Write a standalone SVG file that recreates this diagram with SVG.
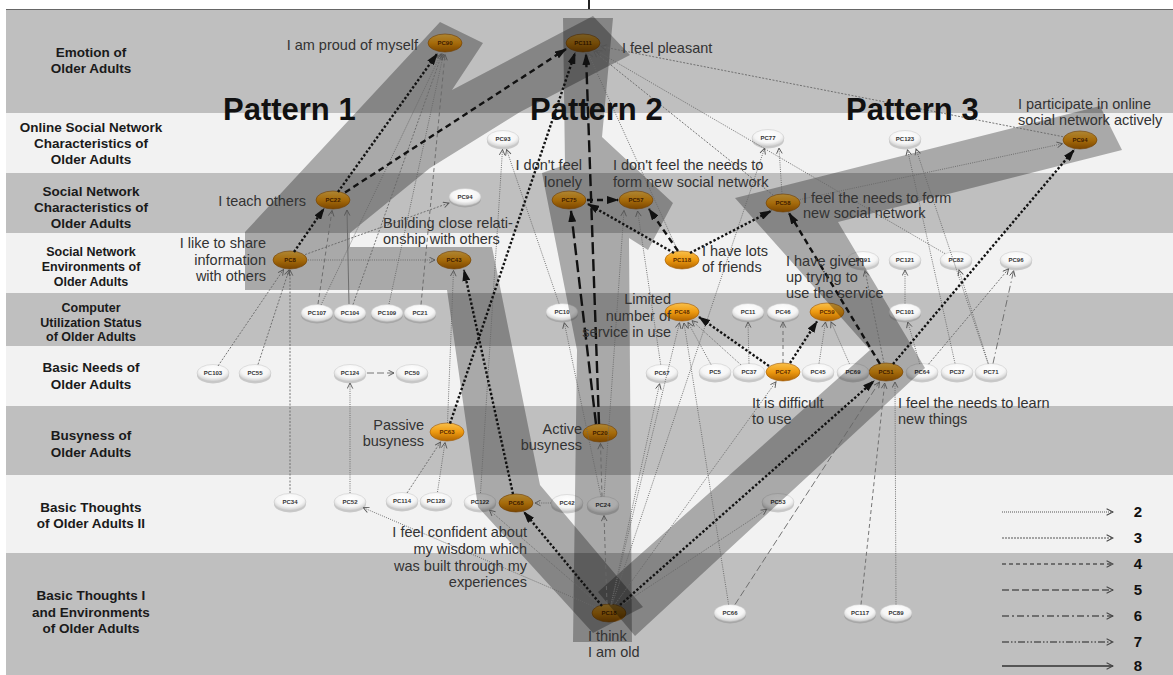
<svg xmlns="http://www.w3.org/2000/svg" width="1173" height="675" viewBox="0 0 1173 675">
<style>
.bd{fill:#bfbfbf}.bl{fill:#f2f2f2}
.rl{font:bold 13.5px "Liberation Sans",Arial,sans-serif;fill:#1a1a1a;text-anchor:middle}
.rs{font-size:12.5px}
.pt{font:bold 31px "Liberation Sans",Arial,sans-serif;fill:#111}
.an{font:14.5px "Liberation Sans",Arial,sans-serif;fill:#333}
.e{text-anchor:end}
.on ellipse{fill:url(#og);stroke:#a05800;stroke-width:.6}
.on text{font:bold 6px "Liberation Sans",Arial,sans-serif;fill:#5a2a00;text-anchor:middle}
.wn ellipse{fill:url(#wg);stroke:#c4c4c4;stroke-width:.5}
.wn ellipse.sh{fill:#7a7a7a;stroke:none;opacity:.35}
.wn text{font:bold 6px "Liberation Sans",Arial,sans-serif;fill:#333;text-anchor:middle}
.pat{fill:#000;opacity:.3}
.t line{stroke:#666;stroke-width:.9;fill:none;marker-end:url(#ah)}
.s2{stroke-dasharray:1 1.2}
.s3{stroke-dasharray:2 1.5}
.s4{stroke-dasharray:4 3}
.s5{stroke-dasharray:7 3}
.s6{stroke-dasharray:7 3 1.5 3}
.s7{stroke-dasharray:7 2 1.5 2 1.5 2}
.k line{stroke:#111;stroke-width:2.4;fill:none;marker-end:url(#ahb)}
.dt{stroke-dasharray:2.4 2}
.ds{stroke-dasharray:6 4}
.ld{stroke-dasharray:12 5}
.lg line{stroke:#555;fill:none;marker-end:url(#ahl)}
.ln{font:bold 15px "Liberation Sans",Arial,sans-serif;fill:#111;text-anchor:middle}
</style>
<defs>
<linearGradient id="og" x1="0" y1="0" x2="0" y2="1"><stop offset="0" stop-color="#f9c04a"/><stop offset="0.5" stop-color="#ee9a10"/><stop offset="1" stop-color="#b06400"/></linearGradient>
<radialGradient id="wg" cx="0.5" cy="0.35" r="0.7"><stop offset="0" stop-color="#ffffff"/><stop offset="0.6" stop-color="#f5f5f5"/><stop offset="1" stop-color="#c2c2c2"/></radialGradient>
<marker id="ah" viewBox="0 0 10 10" refX="9" refY="5" markerWidth="7" markerHeight="7" orient="auto" markerUnits="userSpaceOnUse"><path d="M1,1 L9,5 L1,9" fill="none" stroke="#555" stroke-width="1.3"/></marker>
<marker id="ahl" viewBox="0 0 10 10" refX="9" refY="5" markerWidth="8" markerHeight="8" orient="auto" markerUnits="userSpaceOnUse"><path d="M1,1 L9,5 L1,9" fill="none" stroke="#444" stroke-width="1.3"/></marker>
<marker id="ahb" viewBox="0 0 12 8" refX="11" refY="4" markerWidth="12" markerHeight="8" orient="auto" markerUnits="userSpaceOnUse"><path d="M0,0 L12,4 L0,8 z" fill="#111"/></marker>
</defs>
<rect width="1173" height="675" fill="#fff"/>
<g id="bands">
<rect class="bd" x="6" y="10" width="1167" height="103"/>
<rect class="bl" x="6" y="113" width="1167" height="60"/>
<rect class="bd" x="6" y="173" width="1167" height="60"/>
<rect class="bl" x="6" y="233" width="1167" height="60"/>
<rect class="bd" x="6" y="293" width="1167" height="53"/>
<rect class="bl" x="6" y="346" width="1167" height="60"/>
<rect class="bd" x="6" y="406" width="1167" height="69"/>
<rect class="bl" x="6" y="475" width="1167" height="78"/>
<rect class="bd" x="6" y="553" width="1167" height="122"/>
<line x1="6" y1="9.5" x2="1173" y2="9.5" stroke="#666" stroke-width="1"/>
<line x1="589" y1="0" x2="589" y2="9" stroke="#222" stroke-width="2"/>
</g>
<g id="row-labels">
<text class="rl" x="91" y="57">Emotion of</text><text class="rl" x="91" y="73">Older Adults</text>
<text class="rl" x="91" y="132">Online Social Network</text><text class="rl" x="91" y="148">Characteristics of</text><text class="rl" x="91" y="164">Older Adults</text>
<text class="rl" x="91" y="196">Social Network</text><text class="rl" x="91" y="212">Characteristics of</text><text class="rl" x="91" y="228">Older Adults</text>
<text class="rl rs" x="91" y="256">Social Network</text><text class="rl rs" x="91" y="271">Environments of</text><text class="rl rs" x="91" y="286">Older Adults</text>
<text class="rl rs" x="91" y="312">Computer</text><text class="rl rs" x="91" y="327">Utilization Status</text><text class="rl rs" x="91" y="341">of Older Adults</text>
<text class="rl" x="91" y="372">Basic Needs of</text><text class="rl" x="91" y="389">Older Adults</text>
<text class="rl" x="91" y="440">Busyness of</text><text class="rl" x="91" y="457">Older Adults</text>
<text class="rl" x="91" y="512">Basic Thoughts</text><text class="rl" x="91" y="528">of Older Adults II</text>
<text class="rl" x="91" y="600">Basic Thoughts I</text><text class="rl" x="91" y="617">and Environments</text><text class="rl" x="91" y="633">of Older Adults</text>
</g>
<g id="nodes">
<g id="PC90" class="on"><ellipse cx="445" cy="43" rx="17" ry="9"/><text x="445" y="45">PC90</text></g>
<g id="PC111" class="on"><ellipse cx="583" cy="43" rx="17" ry="9"/><text x="583" y="45">PC111</text></g>
<g id="PC22" class="on"><ellipse cx="333" cy="200" rx="17" ry="9"/><text x="333" y="202">PC22</text></g>
<g id="PC8" class="on"><ellipse cx="290" cy="260" rx="17" ry="9"/><text x="290" y="262">PC8</text></g>
<g id="PC43" class="on"><ellipse cx="454" cy="260" rx="17" ry="9"/><text x="454" y="262">PC43</text></g>
<g id="PC94-a" class="on"><ellipse cx="1080" cy="140" rx="17" ry="9"/><text x="1080" y="142">PC94</text></g>
<g id="PC58" class="on"><ellipse cx="783" cy="203" rx="17" ry="9"/><text x="783" y="205">PC58</text></g>
<g id="PC75" class="on"><ellipse cx="569" cy="200" rx="17" ry="9"/><text x="569" y="202">PC75</text></g>
<g id="PC57" class="on"><ellipse cx="636" cy="200" rx="17" ry="9"/><text x="636" y="202">PC57</text></g>
<g id="PC118" class="on"><ellipse cx="682" cy="260" rx="17" ry="9"/><text x="682" y="262">PC118</text></g>
<g id="PC48" class="on"><ellipse cx="682" cy="312" rx="17" ry="9"/><text x="682" y="314">PC48</text></g>
<g id="PC59" class="on"><ellipse cx="827" cy="312" rx="17" ry="9"/><text x="827" y="314">PC59</text></g>
<g id="PC47" class="on"><ellipse cx="783" cy="372" rx="17" ry="9"/><text x="783" y="374">PC47</text></g>
<g id="PC51" class="on"><ellipse cx="886" cy="372" rx="17" ry="9"/><text x="886" y="374">PC51</text></g>
<g id="PC63" class="on"><ellipse cx="447" cy="432" rx="17" ry="9"/><text x="447" y="434">PC63</text></g>
<g id="PC20" class="on"><ellipse cx="600" cy="433" rx="17" ry="9"/><text x="600" y="435">PC20</text></g>
<g id="PC68" class="on"><ellipse cx="516" cy="503" rx="17" ry="9"/><text x="516" y="505">PC68</text></g>
<g id="PC18" class="on"><ellipse cx="609" cy="613" rx="17" ry="9"/><text x="609" y="615">PC18</text></g>

<g id="PC93" class="wn"><ellipse class="sh" cx="503" cy="141" rx="16" ry="8.5"/><ellipse cx="503" cy="139" rx="16" ry="8.5"/><text x="503" y="141">PC93</text></g>
<g id="PC94-b" class="wn"><ellipse class="sh" cx="465" cy="199" rx="16" ry="8.5"/><ellipse cx="465" cy="197" rx="16" ry="8.5"/><text x="465" y="199">PC94</text></g>
<g id="PC77" class="wn"><ellipse class="sh" cx="768" cy="140" rx="16" ry="8.5"/><ellipse cx="768" cy="138" rx="16" ry="8.5"/><text x="768" y="140">PC77</text></g>
<g id="PC123" class="wn"><ellipse class="sh" cx="905" cy="141" rx="16" ry="8.5"/><ellipse cx="905" cy="139" rx="16" ry="8.5"/><text x="905" y="141">PC123</text></g>
<g id="PC91" class="wn"><ellipse class="sh" cx="863" cy="262" rx="16" ry="8.5"/><ellipse cx="863" cy="260" rx="16" ry="8.5"/><text x="863" y="262">PC91</text></g>
<g id="PC121" class="wn"><ellipse class="sh" cx="905" cy="262" rx="16" ry="8.5"/><ellipse cx="905" cy="260" rx="16" ry="8.5"/><text x="905" y="262">PC121</text></g>
<g id="PC82" class="wn"><ellipse class="sh" cx="956" cy="262" rx="16" ry="8.5"/><ellipse cx="956" cy="260" rx="16" ry="8.5"/><text x="956" y="262">PC82</text></g>
<g id="PC96" class="wn"><ellipse class="sh" cx="1016" cy="262" rx="16" ry="8.5"/><ellipse cx="1016" cy="260" rx="16" ry="8.5"/><text x="1016" y="262">PC96</text></g>
<g id="PC107" class="wn"><ellipse class="sh" cx="317" cy="315" rx="16" ry="8.5"/><ellipse cx="317" cy="313" rx="16" ry="8.5"/><text x="317" y="315">PC107</text></g>
<g id="PC104" class="wn"><ellipse class="sh" cx="350" cy="315" rx="16" ry="8.5"/><ellipse cx="350" cy="313" rx="16" ry="8.5"/><text x="350" y="315">PC104</text></g>
<g id="PC109" class="wn"><ellipse class="sh" cx="387" cy="315" rx="16" ry="8.5"/><ellipse cx="387" cy="313" rx="16" ry="8.5"/><text x="387" y="315">PC109</text></g>
<g id="PC21" class="wn"><ellipse class="sh" cx="420" cy="315" rx="16" ry="8.5"/><ellipse cx="420" cy="313" rx="16" ry="8.5"/><text x="420" y="315">PC21</text></g>
<g id="PC10" class="wn"><ellipse class="sh" cx="562" cy="314" rx="16" ry="8.5"/><ellipse cx="562" cy="312" rx="16" ry="8.5"/><text x="562" y="314">PC10</text></g>
<g id="PC11" class="wn"><ellipse class="sh" cx="748" cy="314" rx="16" ry="8.5"/><ellipse cx="748" cy="312" rx="16" ry="8.5"/><text x="748" y="314">PC11</text></g>
<g id="PC46" class="wn"><ellipse class="sh" cx="783" cy="314" rx="16" ry="8.5"/><ellipse cx="783" cy="312" rx="16" ry="8.5"/><text x="783" y="314">PC46</text></g>
<g id="PC101" class="wn"><ellipse class="sh" cx="905" cy="314" rx="16" ry="8.5"/><ellipse cx="905" cy="312" rx="16" ry="8.5"/><text x="905" y="314">PC101</text></g>
<g id="PC103" class="wn"><ellipse class="sh" cx="213" cy="375" rx="16" ry="8.5"/><ellipse cx="213" cy="373" rx="16" ry="8.5"/><text x="213" y="375">PC103</text></g>
<g id="PC55" class="wn"><ellipse class="sh" cx="255" cy="375" rx="16" ry="8.5"/><ellipse cx="255" cy="373" rx="16" ry="8.5"/><text x="255" y="375">PC55</text></g>
<g id="PC124" class="wn"><ellipse class="sh" cx="350" cy="375" rx="16" ry="8.5"/><ellipse cx="350" cy="373" rx="16" ry="8.5"/><text x="350" y="375">PC124</text></g>
<g id="PC50" class="wn"><ellipse class="sh" cx="412" cy="375" rx="16" ry="8.5"/><ellipse cx="412" cy="373" rx="16" ry="8.5"/><text x="412" y="375">PC50</text></g>
<g id="PC67" class="wn"><ellipse class="sh" cx="662" cy="375" rx="16" ry="8.5"/><ellipse cx="662" cy="373" rx="16" ry="8.5"/><text x="662" y="375">PC67</text></g>
<g id="PC5" class="wn"><ellipse class="sh" cx="715" cy="374" rx="16" ry="8.5"/><ellipse cx="715" cy="372" rx="16" ry="8.5"/><text x="715" y="374">PC5</text></g>
<g id="PC37-a" class="wn"><ellipse class="sh" cx="749" cy="374" rx="16" ry="8.5"/><ellipse cx="749" cy="372" rx="16" ry="8.5"/><text x="749" y="374">PC37</text></g>
<g id="PC45" class="wn"><ellipse class="sh" cx="818" cy="374" rx="16" ry="8.5"/><ellipse cx="818" cy="372" rx="16" ry="8.5"/><text x="818" y="374">PC45</text></g>
<g id="PC69" class="wn"><ellipse class="sh" cx="853" cy="374" rx="16" ry="8.5"/><ellipse cx="853" cy="372" rx="16" ry="8.5"/><text x="853" y="374">PC69</text></g>
<g id="PC64" class="wn"><ellipse class="sh" cx="922" cy="374" rx="16" ry="8.5"/><ellipse cx="922" cy="372" rx="16" ry="8.5"/><text x="922" y="374">PC64</text></g>
<g id="PC37-b" class="wn"><ellipse class="sh" cx="957" cy="374" rx="16" ry="8.5"/><ellipse cx="957" cy="372" rx="16" ry="8.5"/><text x="957" y="374">PC37</text></g>
<g id="PC71" class="wn"><ellipse class="sh" cx="991" cy="374" rx="16" ry="8.5"/><ellipse cx="991" cy="372" rx="16" ry="8.5"/><text x="991" y="374">PC71</text></g>
<g id="PC34" class="wn"><ellipse class="sh" cx="290" cy="504" rx="16" ry="8.5"/><ellipse cx="290" cy="502" rx="16" ry="8.5"/><text x="290" y="504">PC34</text></g>
<g id="PC52" class="wn"><ellipse class="sh" cx="350" cy="504" rx="16" ry="8.5"/><ellipse cx="350" cy="502" rx="16" ry="8.5"/><text x="350" y="504">PC52</text></g>
<g id="PC114" class="wn"><ellipse class="sh" cx="402" cy="503" rx="16" ry="8.5"/><ellipse cx="402" cy="501" rx="16" ry="8.5"/><text x="402" y="503">PC114</text></g>
<g id="PC128" class="wn"><ellipse class="sh" cx="436" cy="503" rx="16" ry="8.5"/><ellipse cx="436" cy="501" rx="16" ry="8.5"/><text x="436" y="503">PC128</text></g>
<g id="PC122" class="wn"><ellipse class="sh" cx="480" cy="504" rx="16" ry="8.5"/><ellipse cx="480" cy="502" rx="16" ry="8.5"/><text x="480" y="504">PC122</text></g>
<g id="PC42" class="wn"><ellipse class="sh" cx="567" cy="505" rx="16" ry="8.5"/><ellipse cx="567" cy="503" rx="16" ry="8.5"/><text x="567" y="505">PC42</text></g>
<g id="PC24" class="wn"><ellipse class="sh" cx="603" cy="507" rx="16" ry="8.5"/><ellipse cx="603" cy="505" rx="16" ry="8.5"/><text x="603" y="507">PC24</text></g>
<g id="PC53" class="wn"><ellipse class="sh" cx="778" cy="504" rx="16" ry="8.5"/><ellipse cx="778" cy="502" rx="16" ry="8.5"/><text x="778" y="504">PC53</text></g>
<g id="PC66" class="wn"><ellipse class="sh" cx="730" cy="615" rx="16" ry="8.5"/><ellipse cx="730" cy="613" rx="16" ry="8.5"/><text x="730" y="615">PC66</text></g>
<g id="PC117" class="wn"><ellipse class="sh" cx="860" cy="615" rx="16" ry="8.5"/><ellipse cx="860" cy="613" rx="16" ry="8.5"/><text x="860" y="615">PC117</text></g>
<g id="PC89" class="wn"><ellipse class="sh" cx="896" cy="615" rx="16" ry="8.5"/><ellipse cx="896" cy="613" rx="16" ry="8.5"/><text x="896" y="615">PC89</text></g>
</g>
<g id="patterns">
<polygon class="pat" points="245,290 245,232 440,22 483,43 452,90 593,16 630,55 520,112 430,168 350,233 350,247 492,247 540,485 643,607 593,633 478,507 447,290"/>
<polygon class="pat" points="563,18 613,18 602,137 673,203 648,250 629,238 632,642 573,642 577,350 542,173 565,165"/>
<polygon class="pat" points="598,592 870,350 735,198 1100,106 1122,150 838,222 925,368 635,636"/>
</g>
<g id="connectors">
<g class="t">
<line class="s3" x1="290" y1="493" x2="290" y2="270"/>
<line class="s2" x1="350" y1="493" x2="350" y2="383"/>
<line class="s5" x1="367" y1="373" x2="394" y2="373"/>
<line class="s3" x1="218" y1="366" x2="283.5" y2="269.5"/>
<line class="s3" x1="258" y1="364.5" x2="289" y2="270"/>
<line class="s3" x1="407" y1="493" x2="440.5" y2="442"/>
<line class="s2" x1="437.5" y1="492" x2="445" y2="442.5"/>
<line class="s2" x1="447.5" y1="423" x2="453.5" y2="270.5"/>
<line class="s2" x1="480.5" y1="493" x2="502.5" y2="149.5"/>
<line class="s2" x1="559" y1="303.5" x2="506.5" y2="149.5"/>
<line class="s3" x1="305" y1="254.6" x2="449" y2="203"/>
<line class="s2" x1="308" y1="260" x2="435" y2="260"/>
<line class="s4" x1="318" y1="304" x2="332" y2="210.5"/>
<line x1="349" y1="304" x2="347" y2="210"/>
<line class="s2" x1="321" y1="305" x2="441" y2="54"/>
<line class="s3" x1="353" y1="304.5" x2="442" y2="54"/>
<line class="s2" x1="389" y1="304" x2="443.5" y2="54"/>
<line class="s4" x1="421" y1="304.5" x2="445" y2="54.5"/>
<line class="s3" x1="1063" y1="136.7" x2="601" y2="46.5"/>
<line class="s3" x1="773.6" y1="195.5" x2="594" y2="51.5"/>
<line class="s2" x1="944.8" y1="253.5" x2="596" y2="50.5"/>
<line class="s2" x1="678" y1="251.3" x2="588" y2="53"/>
<line class="s2" x1="782" y1="194" x2="779" y2="148"/>
<line class="s2" x1="612" y1="604.5" x2="764.5" y2="148.4"/>
<line class="s2" x1="800" y1="199.5" x2="1062.5" y2="143.7"/>
<line class="s2" x1="955" y1="363.3" x2="907.5" y2="149.7"/>
<line class="s2" x1="988" y1="363.5" x2="916" y2="149"/>
<line class="s3" x1="884" y1="363" x2="865" y2="270.5"/>
<line class="s2" x1="905" y1="303.5" x2="905" y2="270"/>
<line class="s2" x1="988.3" y1="363.4" x2="959" y2="270"/>
<line class="s3" x1="928.5" y1="364.2" x2="1008.6" y2="268.8"/>
<line class="s6" x1="993" y1="363.5" x2="1013.6" y2="270.7"/>
<line class="s2" x1="919.7" y1="363.8" x2="907.8" y2="322"/>
<line class="s2" x1="819" y1="363.5" x2="825.5" y2="322"/>
<line class="s2" x1="849.4" y1="363.7" x2="831" y2="322"/>
<line class="s4" x1="783" y1="363" x2="783" y2="322"/>
<line class="s2" x1="749" y1="363.5" x2="748" y2="322"/>
<line class="s2" x1="711" y1="364.5" x2="688" y2="322.5"/>
<line class="s2" x1="740.8" y1="364.7" x2="692" y2="320.7"/>
<line class="s2" x1="611" y1="604.5" x2="679.5" y2="322.7"/>
<line class="s2" x1="728.6" y1="604.5" x2="684" y2="323"/>
<line class="s2" x1="611" y1="604.5" x2="659.6" y2="383.7"/>
<line class="s2" x1="660.7" y1="364.5" x2="637.6" y2="211"/>
<line class="s2" x1="604" y1="496.5" x2="624" y2="210.5"/>
<line class="s4" x1="607" y1="604" x2="604" y2="515.5"/>
<line class="s4" x1="602" y1="496.5" x2="600.5" y2="443.5"/>
<line class="s2" x1="551" y1="503" x2="535" y2="503"/>
<line class="s2" x1="600" y1="605.2" x2="489.5" y2="510.2"/>
<line class="s2" x1="595.2" y1="607" x2="363.3" y2="507.7"/>
<line class="s2" x1="615" y1="604.4" x2="776" y2="381.7"/>
<line class="s2" x1="620" y1="606" x2="766.7" y2="509.4"/>
<line class="s5" x1="735" y1="604.5" x2="879.5" y2="382"/>
<line class="s4" x1="861" y1="604.5" x2="884.7" y2="383"/>
<line class="s2" x1="896" y1="604.5" x2="895" y2="382"/>
<line class="s2" x1="601" y1="496.7" x2="564.3" y2="322.7"/>
</g>
<g class="k">
<line class="dt" x1="602" y1="606" x2="524" y2="512"/>
<line class="dt" x1="513" y1="494" x2="464" y2="270"/>
<line class="dt" x1="294" y1="252" x2="324" y2="208.5"/>
<line class="dt" x1="338" y1="192" x2="437" y2="54"/>
<line class="ds" x1="345" y1="192.5" x2="566" y2="49"/>
<line class="dt" x1="450" y1="423.5" x2="575" y2="53"/>
<line class="ld" x1="599" y1="424" x2="586" y2="54"/>
<line class="ld" x1="596" y1="424" x2="571" y2="211"/>
<line class="ds" x1="587" y1="200" x2="618" y2="200"/>
<line class="dt" x1="674" y1="253" x2="588" y2="204"/>
<line class="ds" x1="678" y1="251" x2="649" y2="209"/>
<line class="dt" x1="690" y1="253" x2="771" y2="211"/>
<line class="ds" x1="880" y1="364" x2="789" y2="213"/>
<line class="dt" x1="893" y1="364" x2="1074" y2="150"/>
<line class="dt" x1="620" y1="605" x2="874" y2="381"/>
<line class="dt" x1="769" y1="366" x2="699" y2="317"/>
<line class="dt" x1="790" y1="363" x2="817" y2="321.5"/>
</g>
</g>
<g id="pattern-titles">
<text class="pt" x="223" y="120">Pattern 1</text>
<text class="pt" x="530" y="120">Pattern 2</text>
<text class="pt" x="846" y="120">Pattern 3</text>
</g>
<g id="annotations">
<text class="an e" x="418" y="50">I am proud of myself</text>
<text class="an" x="622" y="53">I feel pleasant</text>
<text class="an" x="1018" y="109">I participate in online</text>
<text class="an" x="1018" y="125">social network actively</text>
<text class="an e" x="582" y="170">I don't feel</text>
<text class="an e" x="582" y="187">lonely</text>
<text class="an" x="613" y="170">I don't feel  the needs to</text>
<text class="an" x="613" y="187">form new social network</text>
<text class="an" x="803" y="203">I feel the needs to form</text>
<text class="an" x="803" y="218">new social network</text>
<text class="an e" x="306" y="206">I teach others</text>
<text class="an" x="383" y="228">Building close relati-</text>
<text class="an" x="383" y="244">onship with others</text>
<text class="an e" x="266" y="248">I like to share</text>
<text class="an e" x="266" y="265">information</text>
<text class="an e" x="266" y="281">with others</text>
<text class="an" x="702" y="256">I have lots</text>
<text class="an" x="702" y="272">of friends</text>
<text class="an e" x="671" y="304">Limited</text>
<text class="an e" x="671" y="321">number of</text>
<text class="an e" x="671" y="337">service in use</text>
<text class="an" x="786" y="266">I have given</text>
<text class="an" x="786" y="282">up trying to</text>
<text class="an" x="786" y="298">use the service</text>
<text class="an" x="752" y="408">It is difficult</text>
<text class="an" x="752" y="424">to use</text>
<text class="an" x="898" y="408">I feel the needs to learn</text>
<text class="an" x="898" y="424">new things</text>
<text class="an e" x="424" y="430">Passive</text>
<text class="an e" x="424" y="446">busyness</text>
<text class="an e" x="582" y="434">Active</text>
<text class="an e" x="582" y="450">busyness</text>
<text class="an e" x="527" y="537">I feel confident about</text>
<text class="an e" x="527" y="554">my wisdom which</text>
<text class="an e" x="527" y="571">was built through my</text>
<text class="an e" x="527" y="587">experiences</text>
<text class="an" x="588" y="641">I think</text>
<text class="an" x="588" y="657">I am old</text>
</g>
<g id="legend">
<g class="lg">
<line x1="1002" y1="512" x2="1113" y2="512" stroke-width="1" stroke-dasharray="1 1"/>
<line x1="1002" y1="538" x2="1113" y2="538" stroke-width="1.2" stroke-dasharray="2 1"/>
<line x1="1002" y1="564" x2="1113" y2="564" stroke-width="1.3" stroke-dasharray="4 3"/>
<line x1="1002" y1="590" x2="1113" y2="590" stroke-width="1.6" stroke-dasharray="7 3"/>
<line x1="1002" y1="616" x2="1113" y2="616" stroke-width="1.4" stroke-dasharray="7 3 2 3"/>
<line x1="1002" y1="642" x2="1113" y2="642" stroke-width="1.4" stroke-dasharray="7 2 1.5 2 1.5 2"/>
<line x1="1002" y1="666" x2="1113" y2="666" stroke-width="1.8"/>
</g>
<text class="ln" x="1138" y="517">2</text>
<text class="ln" x="1138" y="543">3</text>
<text class="ln" x="1138" y="569">4</text>
<text class="ln" x="1138" y="595">5</text>
<text class="ln" x="1138" y="621">6</text>
<text class="ln" x="1138" y="647">7</text>
<text class="ln" x="1138" y="671">8</text>
</g>
</svg>
